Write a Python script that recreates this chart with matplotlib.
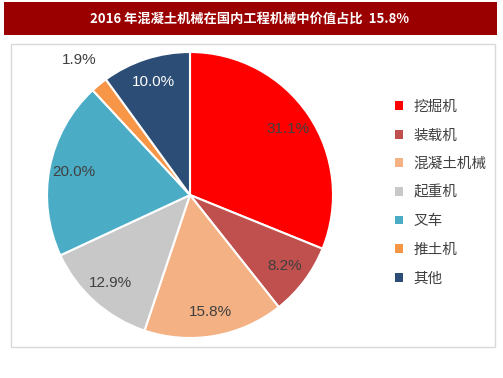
import numpy as np
import matplotlib
matplotlib.use("Agg")
import matplotlib.pyplot as plt
from matplotlib.patches import Rectangle, Patch

plt.rcParams['font.family'] = ['Noto Sans CJK SC', 'DejaVu Sans']

# 数据
title = '2016 年混凝土机械在国内工程机械中价值占比  15.8%'
categories = ['挖掘机', '装载机', '混凝土机械', '起重机', '叉车', '推土机', '其他']
shares = [31.1, 8.2, 15.8, 12.9, 20.0, 1.9, 10.0]
colors = ['#FF0000', '#C0504D', '#F4B183', '#C8C8C8', '#4BACC6', '#F79646', '#2C4D75']
label_colors = ['#404040', '#404040', '#404040', '#404040', '#404040', '#404040', '#FFFFFF']

W, H = 503, 378
fig = plt.figure(figsize=(W / 100, H / 100), dpi=100)

# 标题栏和外框
fig.patches.append(Rectangle((4 / W, 1 - 35 / H), 493 / W, 33 / H,
                             transform=fig.transFigure, facecolor='#9B0000',
                             edgecolor='none', zorder=0))
fig.text(250 / W, 1 - 18.5 / H, title, color='white', fontsize=9.5,
         fontweight='bold', ha='center', va='center')
fig.patches.append(Rectangle((11 / W, 1 - 347 / H), 484 / W, 303 / H,
                             transform=fig.transFigure, facecolor='none',
                             edgecolor='#D9D9D9', linewidth=1, zorder=0))

# 饼图
cx, cy, r = 190, 195, 143
ax = fig.add_axes([(cx - r) / W, (H - cy - r) / H, 2 * r / W, 2 * r / H])
wedges, texts, autotexts = ax.pie(
    shares, colors=colors, startangle=90, counterclock=False,
    autopct='%.1f%%', pctdistance=0.83,
    wedgeprops=dict(edgecolor='white', linewidth=1.5),
    textprops=dict(fontsize=11, family=['Liberation Sans', 'DejaVu Sans']))
for t, c in zip(autotexts, label_colors):
    t.set_color(c)

# 1.9% 放在外面
w = wedges[5]
mid = np.deg2rad((w.theta1 + w.theta2) / 2)
autotexts[5].set_position((1.22 * np.cos(mid), 1.22 * np.sin(mid)))
ax.set_xlim(-1, 1)
ax.set_ylim(-1, 1)
ax.set_aspect('equal')

# 图例
handles = [Patch(facecolor=c, edgecolor='none') for c in colors]
leg = fig.legend(handles, categories, loc='upper left',
                 bbox_to_anchor=(389 / W, 1 - 94 / H), frameon=False,
                 fontsize=10.5, handlelength=0.55, handleheight=0.55,
                 handletextpad=0.75, labelspacing=1.0, borderaxespad=0)
for t in leg.get_texts():
    t.set_color('#404040')

plt.savefig('out.png', dpi=100)
